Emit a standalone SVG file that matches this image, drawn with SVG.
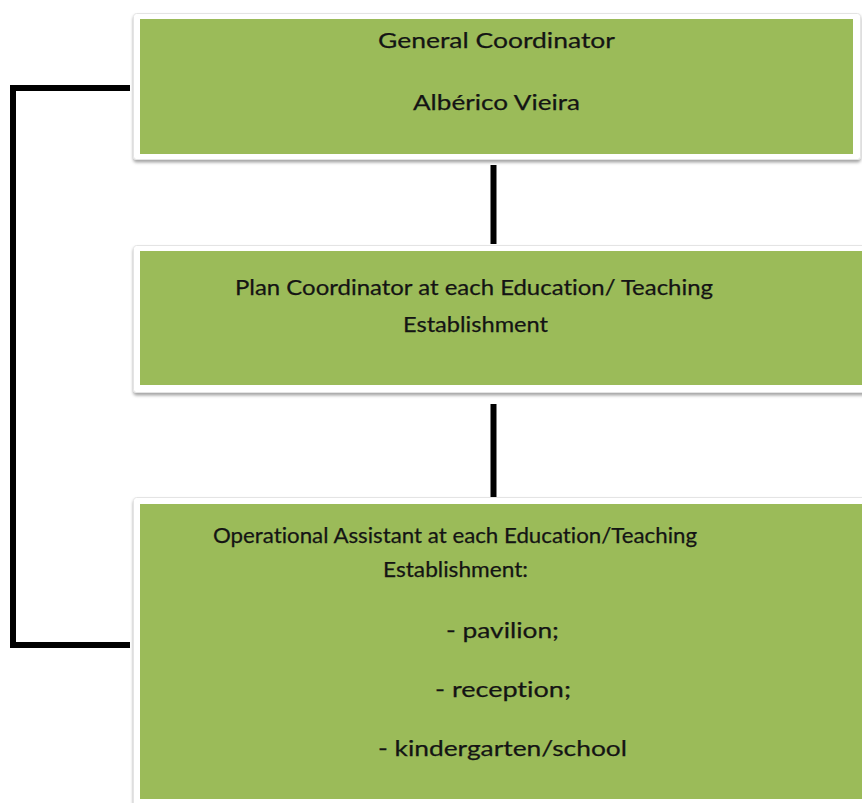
<svg xmlns="http://www.w3.org/2000/svg" width="862" height="803" viewBox="0 0 862 803">
  <defs>
    <filter id="sh" x="-5%" y="-10%" width="110%" height="130%">
      <feDropShadow dx="0" dy="2.5" stdDeviation="1.5" flood-color="#000" flood-opacity="0.35"/>
    </filter>
  </defs>
  <style>
    .frame { fill: #ffffff; stroke: #e4e4e4; stroke-width: 1; filter: url(#sh); }
    .box { fill: #9bbb59; }
    .t { font-family: Lato, "Open Sans", "Liberation Sans", sans-serif; font-size: 21.5px; fill: #141414; text-anchor: middle; font-variant-ligatures: none; stroke: #141414; stroke-width: 0.25; }
    .con { fill: none; stroke: #000; stroke-width: 6; stroke-linejoin: miter; }
  </style>
  <rect width="862" height="803" fill="#ffffff"/>

  <g id="connectors">
    <line class="con" x1="493.5" y1="165" x2="493.5" y2="244"/>
    <line class="con" x1="493.5" y1="404" x2="493.5" y2="497"/>
    <path class="con" d="M130,88 H13 V645 H130"/>
  </g>

  <g id="general-coordinator">
    <rect class="frame" x="133.5" y="13.5" width="727" height="146" rx="3"/>
    <rect class="box" x="140" y="19" width="713" height="135"/>
    <text class="t" x="496.5" y="48" textLength="237" lengthAdjust="spacingAndGlyphs">General Coordinator</text>
    <text class="t" x="496.5" y="110" textLength="167" lengthAdjust="spacingAndGlyphs">Albérico Vieira</text>
  </g>

  <g id="plan-coordinator">
    <rect class="frame" x="133.5" y="245.5" width="740" height="147" rx="3"/>
    <rect class="box" x="140" y="251" width="730" height="134"/>
    <text class="t" x="474" y="295" textLength="478" lengthAdjust="spacingAndGlyphs">Plan Coordinator at each Education/ Teaching</text>
    <text class="t" x="475.5" y="332" textLength="145" lengthAdjust="spacingAndGlyphs">Establishment</text>
  </g>

  <g id="operational-assistant">
    <rect class="frame" x="133.5" y="497.5" width="740" height="320" rx="3"/>
    <rect class="box" x="140" y="504" width="730" height="295"/>
    <text class="t" x="455" y="543" textLength="484" lengthAdjust="spacingAndGlyphs">Operational Assistant at each Education/Teaching</text>
    <text class="t" x="455.5" y="577" textLength="145" lengthAdjust="spacingAndGlyphs">Establishment:</text>
    <text class="t" x="502.5" y="638" textLength="113" lengthAdjust="spacingAndGlyphs">- pavilion;</text>
    <text class="t" x="503" y="697" textLength="136" lengthAdjust="spacingAndGlyphs">- reception;</text>
    <text class="t" x="502.5" y="756" textLength="249" lengthAdjust="spacingAndGlyphs">- kindergarten/school</text>
  </g>
</svg>
